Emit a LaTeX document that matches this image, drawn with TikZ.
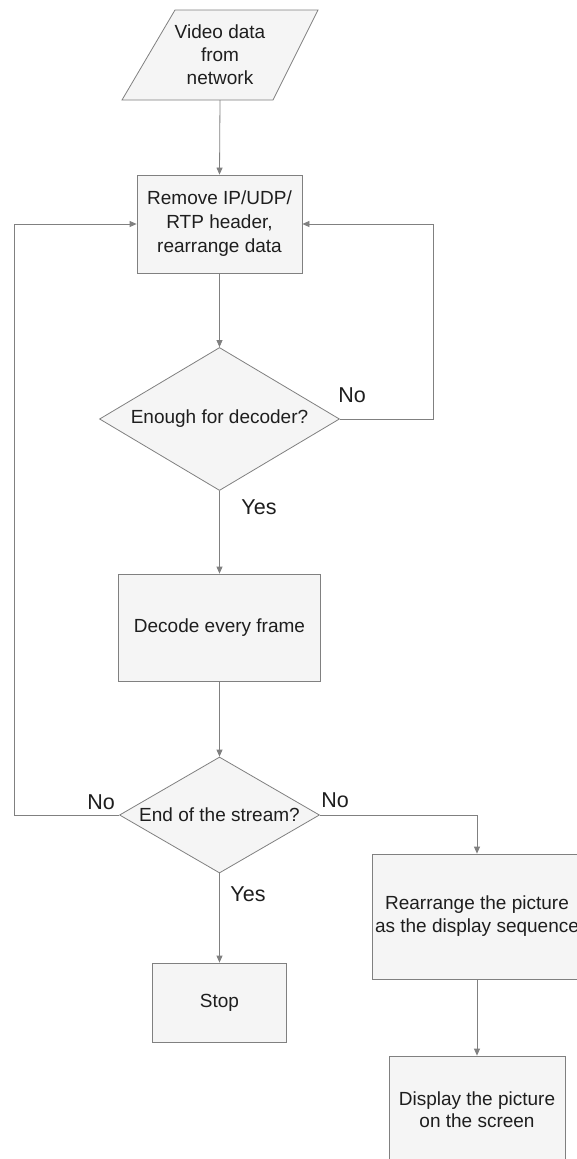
\documentclass[tikz,border=0pt]{standalone}
\usepackage{fontspec}
\setmainfont{Liberation Sans}
\usetikzlibrary{shapes.geometric,arrows.meta}
\definecolor{edge}{HTML}{808080}
\definecolor{panel}{HTML}{F5F5F5}
\definecolor{ink}{HTML}{1E1E1E}
\begin{document}
\begin{tikzpicture}[x=1pt,y=-1pt,
  every node/.style={text=ink, font=\fontsize{19}{24}\selectfont, inner sep=0pt},
  proc/.style={draw=edge, fill=panel, line width=0.8pt, align=center},
  decision/.style={diamond, draw=edge, fill=panel, line width=0.8pt, align=center},
  flow/.style={draw=edge, line width=0.8pt, -{Triangle[length=7pt,width=6pt]}},
  branch/.style={font=\fontsize{21.5}{24}\selectfont}]
\useasboundingbox (0,0) rectangle (577,1159);
\fill[white] (0,0) rectangle (577,1159);

% input parallelogram
\draw[draw=edge, fill=panel, line width=0.8pt]
  (122,100) -- (175,10) -- (318,10) -- (273,100) -- cycle;
\node[align=center, minimum height=90pt, font=\fontsize{19}{23}\selectfont]
  (src) at (220,55) {Video data\\from\\network};

% main column
\node[proc, minimum width=165pt, minimum height=98pt] (strip) at (219.5,224)
  {Remove IP/UDP/\\RTP header,\\rearrange data};
\node[decision, aspect=1.68, minimum width=240pt, minimum height=143pt]
  (enough) at (219.5,419) {Enough for decoder?};
\node[proc, minimum width=202pt, minimum height=107pt] (decode) at (219.5,627.5)
  {Decode every frame};
\node[decision, aspect=1.72, minimum width=200pt, minimum height=116pt]
  (streamend) at (219.5,815) {End of the stream?};
\node[proc, minimum width=134pt, minimum height=79pt] (stop) at (219.5,1002.5)
  {Stop};

% display column
\node[proc, minimum width=210pt, minimum height=125pt,
  font=\fontsize{19}{23}\selectfont] (reorder) at (477,916.5)
  {Rearrange the picture\\as the display sequence};
\node[proc, minimum width=176pt, minimum height=108pt,
  font=\fontsize{19}{22}\selectfont] (show) at (477,1110)
  {Display the picture\\on the screen};

% loop corners
\coordinate (rloop) at (433,419);
\coordinate (lloop) at (14,815);

% connectors
\draw[flow] (src.south) -- (strip.north);
\draw[flow] (strip.south) -- (enough.north);
\draw[flow] (enough.south) -- (decode.north);
\draw[flow] (decode.south) -- (streamend.north);
\draw[flow] (streamend.south) -- (stop.north);
\draw[flow] (streamend.east) -| (reorder.north);
\draw[flow] (reorder.south) -- (show.north);
\draw[flow] (enough.east) -- (rloop) |- (strip.east);
\draw[flow] (streamend.west) -- (lloop) |- (strip.west);

% branch labels
\node[branch] (noA) at (352,395) {No};
\node[branch] (yesA) at (259,507) {Yes};
\node[branch] (noB) at (101,802) {No};
\node[branch] (noC) at (335,800) {No};
\node[branch] (yesB) at (248,894) {Yes};
\end{tikzpicture}
\end{document}
